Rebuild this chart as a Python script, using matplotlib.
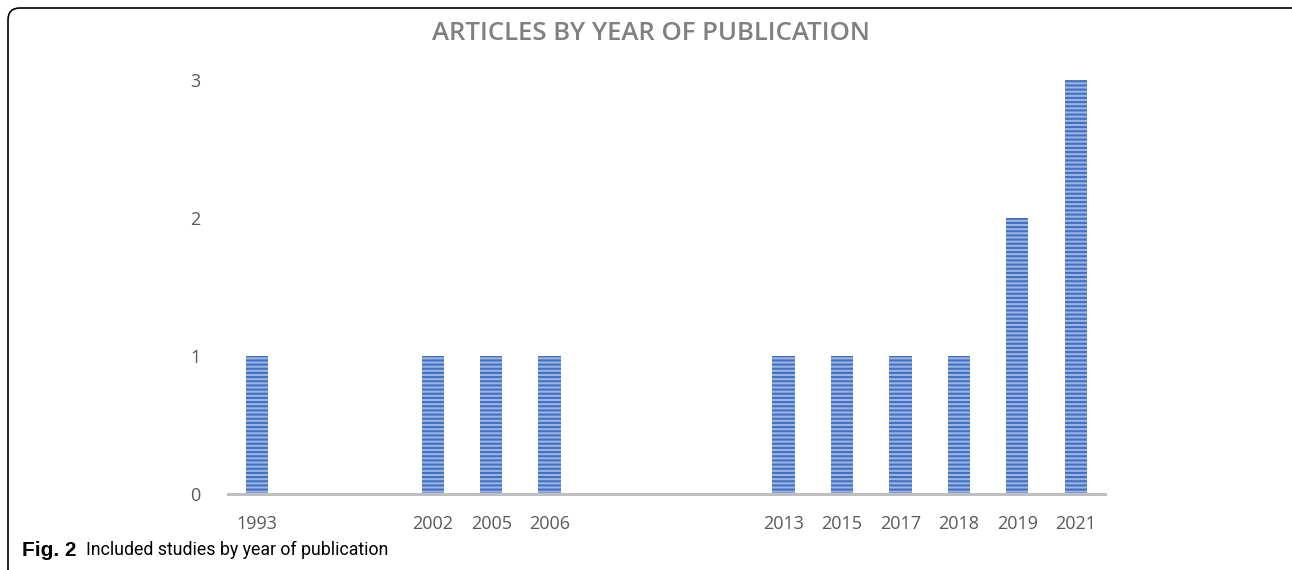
import matplotlib
matplotlib.use("Agg")
import matplotlib.pyplot as plt
from matplotlib.patches import FancyBboxPatch
import numpy as np

# Excel-style category axis: blank categories leave the gaps between years
categories = ["1993", "", "", "2002", "2005", "2006", "", "", "",
              "2013", "2015", "2017", "2018", "2019", "2021"]
counts = [1, 0, 0, 1, 1, 1, 0, 0, 0, 1, 1, 1, 1, 2, 3]
y_ticks = [0, 1, 2, 3]

title = "ARTICLES BY YEAR OF PUBLICATION"
caption_bold = "Fig. 2"
caption_text = "Included studies by year of publication"

plt.rcParams["font.family"] = ["Open Sans", "DejaVu Sans"]
plt.rcParams["hatch.linewidth"] = 1.5

fig = plt.figure(figsize=(12.92, 5.70), dpi=100)
ax = fig.add_axes([0.1765, 0.1333, 0.6788, 0.7263])

x = np.arange(len(categories))
ax.bar(x, counts, width=0.38, color="#9AB4E4", edgecolor="#4470C2",
       linewidth=0, hatch="----")

ax.set_xlim(-0.5, len(categories) - 0.5)
ax.set_ylim(0, 3)
ax.set_xticks(x)
ax.set_xticklabels(categories, fontsize=13, color="#595959")
ax.set_yticks(y_ticks)
ax.set_yticklabels([str(v) for v in y_ticks], fontsize=13, color="#595959")
ax.tick_params(axis="x", length=0, pad=15)
ax.tick_params(axis="y", length=0, pad=20)

for side in ["top", "right", "left"]:
    ax.spines[side].set_visible(False)
ax.spines["bottom"].set_color("#BFBFBF")
ax.spines["bottom"].set_linewidth(2.2)

fig.text(0.5035, 0.942, title, ha="center", va="center", fontsize=18.5,
         fontweight="semibold", color="#808080")

fig.text(22 / 1292, 1 - 550 / 570, caption_bold, ha="left", va="center",
         fontsize=15, fontweight="bold", color="black",
         family=["Liberation Sans", "DejaVu Sans"])
fig.text(86 / 1292, 1 - 550 / 570, caption_text, ha="left", va="center",
         fontsize=12.8, color="black", family=["Roboto", "DejaVu Sans"])

# rounded frame around the figure (right and bottom run off the edge)
frame = FancyBboxPatch((8, -40), 1320, 570 - 8 + 40,
                       boxstyle="round,pad=0,rounding_size=12",
                       transform=None, fill=False, edgecolor="black",
                       linewidth=1.2)
fig.patches.append(frame)

fig.savefig("out.png", dpi=100)
